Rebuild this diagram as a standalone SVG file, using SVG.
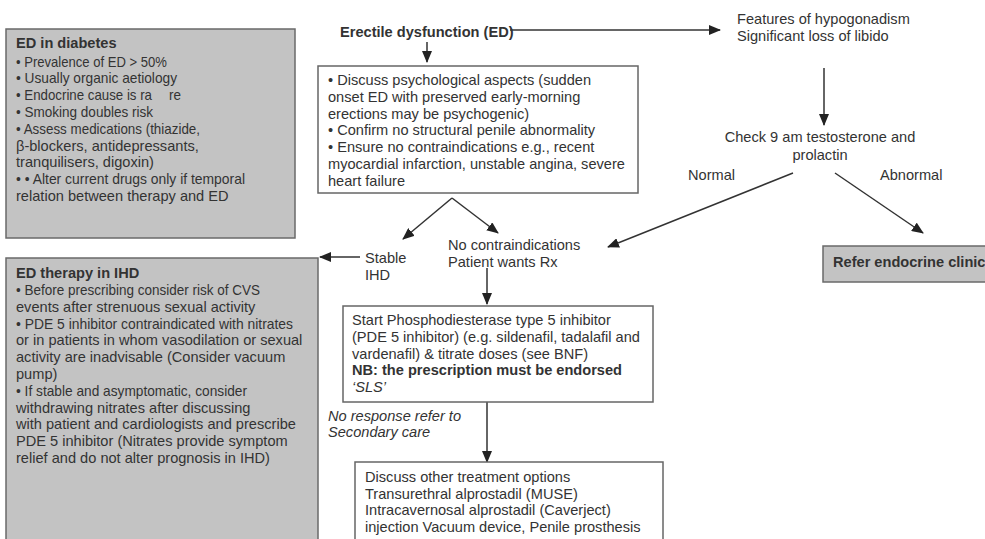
<svg xmlns="http://www.w3.org/2000/svg" width="985" height="539" viewBox="0 0 985 539">
<style>
text{font-family:"Liberation Sans",Arial,sans-serif;font-size:14.6px;fill:#333}
.b{font-weight:bold}
.i{font-style:italic}
.gray{fill:#c3c3c3;stroke:#6a6a6a;stroke-width:1.5}
.white{fill:#fff;stroke:#666;stroke-width:1.5}
.c{fill:none;stroke:#333;stroke-width:1.5;marker-end:url(#ah)}
</style>
<defs>
<marker id="ah" markerUnits="userSpaceOnUse" markerWidth="12" markerHeight="10" viewBox="0 0 12 10" refX="11" refY="5" orient="auto">
<path d="M0,0 L12,5 L0,10 Z" fill="#222"/>
</marker>
</defs>
<rect width="985" height="539" fill="#fff"/>

<g id="connectors">
<path class="c" d="M510,30 H720"/>
<path class="c" d="M427,42 V62"/>
<path class="c" d="M452,198 L403,239"/>
<path class="c" d="M452,198 L498,233"/>
<path class="c" d="M360,257 H320"/>
<path class="c" d="M824,68 V125"/>
<path class="c" d="M793,173 L608,247"/>
<path class="c" d="M835,173 L923,233"/>
<path class="c" d="M487,268 V304"/>
<path class="c" d="M487,402 V462"/>
</g>

<g id="ed-diabetes">
<rect class="gray" x="6" y="29" width="289" height="209"/>
<text class="b" x="16" y="48">ED in diabetes</text>
<text x="16" y="66.5" textLength="151" lengthAdjust="spacingAndGlyphs">• Prevalence of ED &gt; 50%</text>
<text x="16" y="83.3" textLength="161" lengthAdjust="spacingAndGlyphs">• Usually organic aetiology</text>
<text x="16" y="100.1" textLength="136" lengthAdjust="spacingAndGlyphs">• Endocrine cause is ra</text>
<text x="169" y="100.1" textLength="12" lengthAdjust="spacingAndGlyphs">re</text>
<text x="16" y="116.9" textLength="137" lengthAdjust="spacingAndGlyphs">• Smoking doubles risk</text>
<text x="16" y="133.7" textLength="184" lengthAdjust="spacingAndGlyphs">• Assess medications (thiazide,</text>
<text x="16" y="150.5">β-blockers, antidepressants,</text>
<text x="16" y="167.3">tranquilisers, digoxin)</text>
<text x="16" y="184.1" textLength="229" lengthAdjust="spacingAndGlyphs">• • Alter current drugs only if temporal</text>
<text x="16" y="200.9">relation between therapy and ED</text>
</g>

<g id="ed-ihd">
<rect class="gray" x="6" y="258" width="312" height="286"/>
<text class="b" x="16" y="278">ED therapy in IHD</text>
<text x="16" y="295" textLength="244" lengthAdjust="spacingAndGlyphs">•  Before prescribing consider risk of CVS</text>
<text x="16" y="311.8">events after strenuous sexual activity</text>
<text x="16" y="328.6" textLength="277" lengthAdjust="spacingAndGlyphs">• PDE 5 inhibitor contraindicated with nitrates</text>
<text x="16" y="345.4">or in patients in whom vasodilation or sexual</text>
<text x="16" y="362.2">activity are inadvisable (Consider vacuum</text>
<text x="16" y="379">pump)</text>
<text x="16" y="395.8" textLength="231" lengthAdjust="spacingAndGlyphs">• If stable and asymptomatic, consider</text>
<text x="16" y="412.6">withdrawing nitrates after discussing</text>
<text x="16" y="429.4">with patient and cardiologists and prescribe</text>
<text x="16" y="446.2">PDE 5 inhibitor (Nitrates provide symptom</text>
<text x="16" y="463">relief and do not alter prognosis in IHD)</text>
</g>

<g id="ed">
<text class="b" x="340" y="37">Erectile dysfunction (ED)</text>
</g>

<g id="assess">
<rect class="white" x="318" y="66" width="320" height="127"/>
<text x="328" y="85">• Discuss psychological aspects (sudden</text>
<text x="328" y="101.8">onset ED with preserved early-morning</text>
<text x="328" y="118.6">erections may be psychogenic)</text>
<text x="328" y="135.4">• Confirm no structural penile abnormality</text>
<text x="328" y="152.2">• Ensure no contraindications e.g., recent</text>
<text x="328" y="169">myocardial infarction, unstable angina, severe</text>
<text x="328" y="185.8">heart failure</text>
</g>

<g id="stable-ihd">
<text x="365" y="263">Stable</text>
<text x="365" y="280">IHD</text>
</g>

<g id="no-contra">
<text x="448" y="250">No contraindications</text>
<text x="448" y="267">Patient wants Rx</text>
</g>

<g id="hypogonadism">
<text x="737" y="24">Features of hypogonadism</text>
<text x="737" y="41">Significant loss of libido</text>
</g>

<g id="check">
<text x="820" y="142" text-anchor="middle">Check 9 am testosterone and</text>
<text x="820" y="160" text-anchor="middle">prolactin</text>
</g>

<g id="labels">
<text x="688" y="180">Normal</text>
<text x="880" y="180">Abnormal</text>
</g>

<g id="refer">
<rect class="gray" x="823" y="246" width="170" height="36"/>
<text class="b" x="833" y="267">Refer endocrine clinic</text>
</g>

<g id="pde5">
<rect class="white" x="343" y="306" width="310" height="96"/>
<text x="352" y="325">Start Phosphodiesterase type 5 inhibitor</text>
<text x="352" y="341.8">(PDE 5 inhibitor) (e.g. sildenafil, tadalafil and</text>
<text x="352" y="358.6">vardenafil) &amp; titrate doses (see BNF)</text>
<text class="b" x="352" y="375.4">NB: the prescription must be endorsed</text>
<text class="i" x="352" y="392.2">‘SLS’</text>
</g>

<g id="no-response">
<text class="i" x="328" y="421">No response refer to</text>
<text class="i" x="328" y="437">Secondary care</text>
</g>

<g id="other">
<rect class="white" x="355" y="462" width="308" height="90"/>
<text x="365" y="482">Discuss other treatment options</text>
<text x="365" y="498.7">Transurethral alprostadil (MUSE)</text>
<text x="365" y="515.4">Intracavernosal alprostadil (Caverject)</text>
<text x="365" y="532.1">injection Vacuum device, Penile prosthesis</text>
</g>
</svg>
